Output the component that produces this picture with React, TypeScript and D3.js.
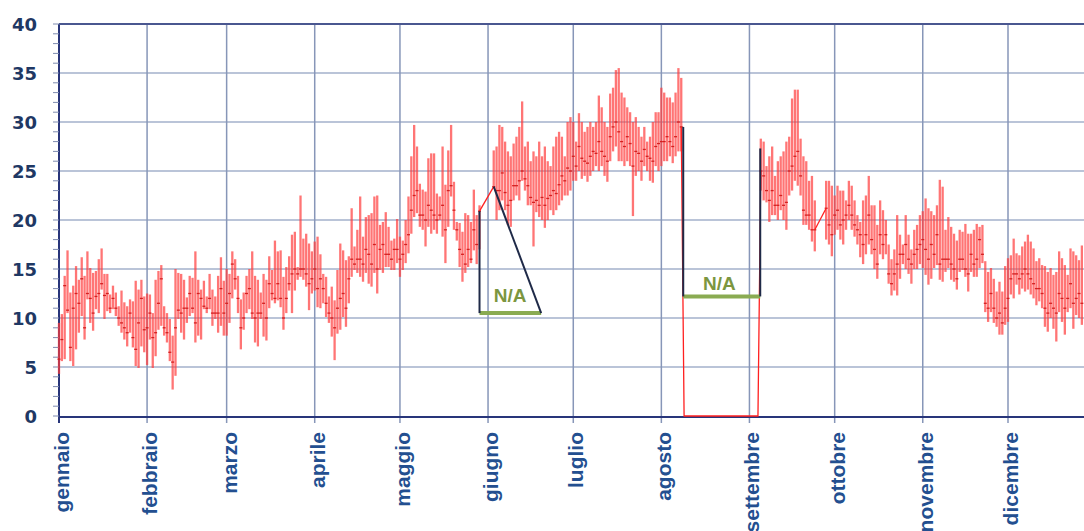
import * as d3 from "d3"

type Giorno = [number, number, number] | null // [min, media, max]

const mesi = [
  "gennaio", "febbraio", "marzo", "aprile", "maggio", "giugno",
  "luglio", "agosto", "settembre", "ottobre", "novembre", "dicembre",
]
const inizioMese = [0, 31, 59, 90, 120, 151, 181, 212, 243, 273, 304, 334]
const yTicks = [0, 5, 10, 15, 20, 25, 30, 35, 40]

const gennaio: Giorno[] = [
  [4.3, 5.8, 9.5], [5.6, 7.8, 10.4], [5.8, 13.3, 14.3], [10.5, 10.8, 16.9], [5.6, 7, 12.6],
  [5.1, 11, 13.3], [6.8, 12.5, 15.3], [8.5, 11.5, 13.9], [10.2, 14, 16.2], [7.8, 9, 14.3],
  [11.9, 12.5, 16.8], [9.5, 12, 15.1], [8.7, 10.5, 14.6], [10.9, 12.2, 14.8], [10.5, 12.5, 16],
  [12.9, 13.5, 17.1], [9.9, 12.3, 14.5], [10.7, 12.5, 14.5], [10.5, 11, 12.4], [10.9, 12, 13.3],
  [10.2, 11, 12.6], [9.2, 10, 11.2], [8.5, 9.5, 12.8], [7.8, 9, 11.6], [7.1, 8.5, 11.2],
  [8.5, 10.5, 11.9], [7, 8, 11.7], [5.1, 6.8, 13.8], [4.9, 9.5, 12.9], [7.1, 12, 13.9],
  [6.5, 8.8, 12.2],
]
const febbraio: Giorno[] = [
  [5.2, 9, 12.5], [7.8, 10.5, 12.4], [4.9, 8, 10.5], [6.1, 8.5, 13.9], [8.8, 11.5, 14.8],
  [9.2, 14, 15.4], [8.2, 9, 11.2], [7.5, 8.5, 10.5], [5.6, 6.5, 9.9], [2.7, 5.5, 8.2],
  [4.1, 9, 15], [9.9, 10.8, 14.6], [8.5, 10.5, 14.5], [7.8, 11, 13.9], [9.5, 11, 12.1],
  [10.2, 12.5, 14.3], [10.5, 11, 14.1], [7.5, 9.5, 16.8], [8.2, 12.5, 13.9], [7.8, 12, 12.9],
  [10.9, 11.2, 13.8], [10.5, 11, 12.2], [10.9, 12, 14.5], [9.2, 10.5, 12.9], [9.9, 10.5, 12.2],
  [8.5, 10.5, 14.3], [9.2, 13, 16.2], [8.2, 10.5, 13.8],
]
const marzo: Giorno[] = [
  [8.2, 11.5, 15], [9.5, 12.5, 14.5], [12, 15.5, 16.8], [12.9, 14, 16], [10.5, 12, 14.3],
  [6.8, 9, 11.9], [8.8, 10, 12.6], [10.5, 12.5, 14.3], [10.9, 13, 15], [9.9, 10.5, 16.8],
  [7.5, 10, 14.3], [7.1, 10.5, 13.9], [9.9, 10.5, 12.6], [8.1, 11.5, 14.5], [7.7, 10, 13.9],
  [11, 13.5, 16.3], [11.8, 12.5, 14.9], [11.5, 12, 17.9], [11.8, 13.5, 16.8], [11.1, 12, 16.9],
  [8.8, 10, 14.2], [10.5, 12, 15.2], [12.8, 13.5, 16.3], [10.5, 14.5, 18.5], [12.8, 15, 18.8],
  [13.9, 14.5, 15.2], [14.2, 15, 22.5], [13.9, 15, 18.1], [13.2, 14.5, 18.6], [10.8, 13.5, 17.6],
  [12.5, 14, 16.8],
]
const aprile: Giorno[] = [
  [12.8, 15, 17.8], [11.1, 13, 18.3], [11, 14, 16.5], [11.5, 13, 14.5], [10.1, 11.5, 14.2],
  [9.5, 10.5, 12.2], [8.1, 10, 13.2], [5.7, 9, 11.8], [8.4, 11, 14.9], [8.8, 12, 17.6],
  [10.1, 12.5, 16.9], [9.1, 11, 15.9], [11.5, 14, 16.3], [14.2, 16, 21.2], [14.9, 15.5, 17.3],
  [14.6, 16, 19], [14.2, 16, 22.4], [13.7, 15.5, 18.3], [14.6, 17, 20.3], [13.5, 16.5, 20.5],
  [13.2, 15.5, 20.7], [14.6, 17.5, 22.4], [12.5, 15, 22.5], [14.9, 17, 19.5], [14.6, 17.5, 19.8],
  [15.2, 16.5, 20.8], [15.2, 16.5, 19.3], [14.9, 16, 17.9], [14.9, 17, 18.1], [15.6, 17, 20.1],
]
const maggio: Giorno[] = [
  [14.2, 16, 18.3], [14.9, 16.5, 17.9], [15.6, 17.5, 20], [16.6, 18.5, 22.4], [18.6, 21, 26.5],
  [20.3, 22.5, 29.7], [20.7, 23, 27.5], [19.3, 20.5, 23.7], [19, 20.5, 23.1], [17.3, 20, 22.9],
  [19.3, 21.5, 26.3], [18.6, 21, 26.8], [19, 20.5, 26.8], [18.6, 20, 22.7], [20, 20.5, 22.4],
  [18.3, 21.5, 27.5], [15.6, 19, 23.6], [19.3, 23, 27.1], [22.4, 23.5, 29.7], [19, 21, 23.9],
  [17.9, 19, 19.8], [15.2, 17, 19.7], [13.7, 16.5, 18.8], [14.6, 15.5, 20.7], [15.2, 17, 20.5],
  [15.6, 16, 19.8], [16.9, 19, 23.1], [15.5, 17.5, 20.5], [17, 20.9, 21.5], null,
  null,
]
const giugno: Giorno[] = [
  null, null, [23.2, 23.4, 27.1], [20, 23, 27.5], [21, 23, 29.7],
  [22, 24.8, 29.5], [21, 22.8, 28], [19.5, 21.5, 27], [19.3, 22, 26.5], [22, 23.5, 27.8],
  [22.5, 23.5, 28.5], [22, 24, 29.5], [24, 25, 32.1], [23, 24.2, 27.5], [21.5, 23.5, 28],
  [21.5, 22.3, 26], [17.3, 21.8, 27], [20.8, 22, 26.5], [20.3, 21.5, 28], [20, 22.3, 26.5],
  [19.2, 21.5, 27.5], [20, 22.2, 26], [21, 22.5, 25.5], [20.5, 23, 27.5], [21, 22.7, 28.5],
  [21.5, 23.6, 29], [22, 24.5, 28.5], [22.5, 24, 26.5], [22.5, 25.3, 30], [23, 25, 30.5],
]
const luglio: Giorno[] = [
  [24, 26.5, 30], [24, 25.5, 28], [25, 27.5, 30.9], [24.2, 26.3, 30], [24.5, 26, 29],
  [23.9, 25.8, 29.5], [24.5, 26.5, 30], [25, 27, 29.5], [25.5, 26.8, 30], [25, 28, 32.7],
  [25.5, 27, 31.5], [24.5, 26.5, 30], [23.9, 26, 29.5], [26, 28.5, 32.9], [27, 29.5, 33.5],
  [27.5, 30, 35.3], [26, 29, 35.5], [26, 28, 33], [25.5, 27.5, 32.5], [26, 28.5, 31.5],
  [25.5, 27.8, 31], [20.4, 25.5, 30], [24.5, 27, 30.5], [25, 26.8, 29.5], [24, 26, 28.5],
  [25.5, 27.2, 29.5], [25, 26.5, 28], [24, 26.3, 28.5], [23.8, 26, 30], [25.5, 27.5, 31],
  [25, 27.8, 31],
]
const agosto: Giorno[] = [
  [25.5, 28, 33.5], [26, 28, 33], [26, 28.5, 32.5], [26.5, 28, 32.5], [25.8, 27.5, 32],
  [26.5, 28.5, 33], [27, 30, 35.5], [27, 29.5, 34.5], [0, 0, 0], [0, 0, 0],
  [0, 0, 0], [0, 0, 0], [0, 0, 0], [0, 0, 0], [0, 0, 0],
  [0, 0, 0], [0, 0, 0], [0, 0, 0], [0, 0, 0], [0, 0, 0],
  [0, 0, 0], [0, 0, 0], [0, 0, 0], [0, 0, 0], [0, 0, 0],
  [0, 0, 0], [0, 0, 0], [0, 0, 0], [0, 0, 0], [0, 0, 0],
  [0, 0, 0],
]
const settembre: Giorno[] = [
  [0, 0, 0], [0, 0, 0], [0, 0, 0], [0, 0, 0], [23, 25, 28.3],
  [22, 24.5, 28], [21.8, 23, 25.5], [19.8, 22, 26.5], [20.5, 23, 27.5], [20.5, 21.5, 24.5],
  [20, 21.5, 26], [21, 22.5, 26.5], [20, 21.5, 27], [19, 21.8, 28], [22.5, 25, 28.5],
  [23, 25.5, 32.4], [24, 26.5, 33.3], [23.5, 27, 33.3], [22.5, 24.5, 28.3], [19.5, 21, 26.5],
  [19.5, 20.5, 26], [19, 20.5, 24], [17.8, 19, 24.5], [16.8, 19, 22], null,
  null, null, [18, 21.2, 24], [17.5, 19.5, 24], [16.3, 18.5, 23.5],
]
const ottobre: Giorno[] = [
  [18.5, 20.5, 22.5], [19, 21, 23.5], [18, 19.5, 23], [17.5, 20, 23], [19, 20.5, 22],
  [20, 21.5, 24], [19, 20.5, 23.5], [18.3, 19.5, 22], [17.5, 19, 20.5], [16.2, 18.5, 19.8],
  [15.5, 17.5, 22], [16.5, 18.5, 22.5], [17.5, 20.5, 24.5], [16.5, 18, 21.5], [15, 17, 21.5],
  [14, 15.5, 19.5], [16.5, 18.5, 22], [16, 17.5, 21], [16.5, 18.5, 20], [13.5, 14.5, 17.5],
  [12.3, 13.5, 16], [12.8, 14.5, 17], [12.3, 15.5, 20.5], [14, 16.5, 18.5], [15.5, 16.5, 17.5],
  [15, 17.5, 20.5], [14.5, 16, 18.5], [13.5, 15.5, 17], [15, 16.5, 19], [15, 17, 19.5],
  [15.5, 17.5, 20.5],
]
const novembre: Giorno[] = [
  [15.1, 18, 20.9], [14.4, 17, 22.2], [13.4, 16, 21.2], [14, 17.5, 20.9], [15.1, 16.5, 20.5],
  [15.4, 18.5, 21.5], [13.9, 15.5, 24.1], [13.7, 16, 23.4], [14.7, 16, 19], [15.1, 16, 20.3],
  [13.9, 15.5, 19.3], [13.7, 15, 18.6], [12.9, 14, 17.9], [14.7, 16, 19], [14.9, 16, 18.8],
  [14.2, 15, 19.6], [12.7, 14.5, 18.6], [14.7, 16.5, 18.6], [14.2, 15.5, 19], [14.2, 16, 19.6],
  [15.1, 18, 19.3], [15.6, 16.5, 19.5], [10.6, 11.5, 15.8], [9.6, 11, 14.7], [10.6, 12.5, 15.1],
  [9.5, 11, 14], [9.1, 10, 12.7], [8.3, 10.5, 13.7], [8.3, 9.5, 12.7], [9.3, 11, 15.3],
]
const dicembre: Giorno[] = [
  [9.6, 12, 16.1], [12.4, 14, 16.4], [12, 14.5, 18.1], [13.4, 14.5, 16.6], [12.4, 14, 16.4],
  [13, 14.5, 17.3], [12.7, 15, 17.8], [12.9, 14.5, 18.5], [12.4, 14, 17.8], [12, 13.5, 17.1],
  [11.3, 13, 15.8], [11.7, 13, 16.1], [11, 12.5, 15.4], [9.1, 11, 15.3], [8.6, 10.5, 14.7],
  [10, 11.5, 15.1], [8.9, 11, 14.4], [7.6, 10.5, 14.7], [10.6, 12.5, 16.8], [9.6, 12, 16.1],
  [8.3, 11, 15.4], [10.6, 12, 14.4], [11, 13.5, 17.1], [8.9, 11.5, 16.8], [10.3, 12, 16.4],
  [10, 12.5, 15.9], [9.3, 11.5, 17.4],
]

// annotazioni "N/A" (giorno dell'anno, valore)
const naNote = [
  { sx: 148, sTop: 20.9, dx: 169.7, dTopX: 153, dTop: 23.4, livello: 10.5, testoX: 158.8, testoY: 11.6, diagonale: true },
  { sx: 219.7, sTop: 29.5, dx: 246.8, dTopX: 246.8, dTop: 27.3, livello: 12.2, testoX: 232.4, testoY: 12.9, diagonale: false },
]

const W = 1084
const H = 531

export default function App() {
  const x = d3.scaleLinear().domain([0, 334]).range([59, 1008])
  const y = d3.scaleLinear().domain([0, 40]).range([416, 24])

  const giorni: Giorno[] = [
    gennaio, febbraio, marzo, aprile, maggio, giugno,
    luglio, agosto, settembre, ottobre, novembre, dicembre,
  ].flat()

  const vuoto = (g: Giorno) => g === null || (g[0] === 0 && g[2] === 0)

  // linee rosse che attraversano i dati mancanti
  const raccordi: [number, number][][] = []
  let i = 0
  while (i < giorni.length) {
    if (vuoto(giorni[i])) {
      let j = i
      while (j + 1 < giorni.length && vuoto(giorni[j + 1])) j++
      const prima = giorni[i - 1]
      const dopo = giorni[j + 1]
      if (prima && dopo) {
        const pts: [number, number][] = [[i - 1, prima[1]]]
        for (let k = i; k <= j; k++) {
          const g = giorni[k]
          if (g) pts.push([k, g[1]])
        }
        pts.push([j + 1, dopo[1]])
        raccordi.push(pts)
      }
      i = j + 1
    } else i++
  }
  const linea = d3.line<[number, number]>().x((d) => x(d[0])).y((d) => y(d[1]))

  const grid = "#a3b0cb"
  const navy = "#28357a"

  return (
    <svg width={W} height={H} style={{ position: "absolute", left: 0, top: 0, background: "#fff" }}>
      {/* griglia orizzontale */}
      {yTicks.slice(1, -1).map((t) => (
        <line key={"h" + t} x1={x(0)} x2={W} y1={y(t)} y2={y(t)} stroke={grid} strokeWidth={1.4} />
      ))}
      {/* griglia verticale mesi */}
      {inizioMese.map((m, k) => (
        <line key={"v" + k} x1={x(m)} x2={x(m)} y1={y(40)} y2={y(0) + 7} stroke={k === 0 ? navy : "#8796b8"} strokeWidth={k === 0 ? 2 : 1.5} />
      ))}
      {/* tacche secondarie asse y */}
      {d3.range(0, 41).map((t) => (
        <line key={"m" + t} x1={x(0) - 6} x2={x(0)} y1={y(t)} y2={y(t)} stroke="#7e8bb0" strokeWidth={1} />
      ))}
      <line x1={x(0)} x2={W} y1={y(40)} y2={y(40)} stroke="#4a5790" strokeWidth={1.8} />
      <line x1={x(0)} x2={W} y1={y(0) + 1} y2={y(0) + 1} stroke={navy} strokeWidth={2} />

      {/* barre min-max */}
      {giorni.map((g, d) =>
        g && !vuoto(g) ? (
          <line key={"b" + d} x1={x(d)} x2={x(d)} y1={y(g[0])} y2={y(g[2])} stroke="#ff3a3a" strokeOpacity={0.7} strokeWidth={2.3} />
        ) : null,
      )}
      {giorni.map((g, d) =>
        g && !vuoto(g) ? (
          <line key={"t" + d} x1={x(d) - 1.5} x2={x(d) + 1.5} y1={y(g[1])} y2={y(g[1])} stroke="#d42020" strokeWidth={1.3} />
        ) : null,
      )}
      {raccordi.map((p, k) => (
        <path key={"r" + k} d={linea(p) ?? ""} fill="none" stroke="#ff2020" strokeWidth={1.3} />
      ))}

      {/* note N/A */}
      {naNote.map((n, k) => (
        <g key={"n" + k}>
          <line x1={x(n.sx)} x2={x(n.dx)} y1={y(n.livello)} y2={y(n.livello)} stroke="#8aab52" strokeWidth={4} />
          <line x1={x(n.sx)} x2={x(n.sx)} y1={y(n.sTop)} y2={y(n.livello)} stroke="#1f2a48" strokeWidth={2} />
          <line x1={n.diagonale ? x(n.dx) : x(n.dTopX)} x2={x(n.dTopX)} y1={y(n.livello)} y2={y(n.dTop)} stroke="#1f2a48" strokeWidth={2} />
          <text x={x(n.testoX)} y={y(n.testoY)} textAnchor="middle" fontFamily="Liberation Sans, Arial, sans-serif" fontWeight="bold" fontSize={19} fill="#7c9640">
            N/A
          </text>
        </g>
      ))}

      {/* etichette asse y */}
      {yTicks.map((t) => (
        <text key={"y" + t} x={37} y={y(t)} textAnchor="end" dominantBaseline="central" fontFamily="DejaVu Sans, sans-serif" fontWeight="bold" fontSize={18} fill="#1f3864">
          {t}
        </text>
      ))}
      {/* etichette mesi */}
      {mesi.map((m, k) => (
        <text key={m} transform={`translate(${x(inizioMese[k]) + 10},432) rotate(-90)`} textAnchor="end" fontFamily="Liberation Sans, Arial, sans-serif" fontWeight="bold" fontSize={21} fill="#234f90">
          {m}
        </text>
      ))}
    </svg>
  )
}
